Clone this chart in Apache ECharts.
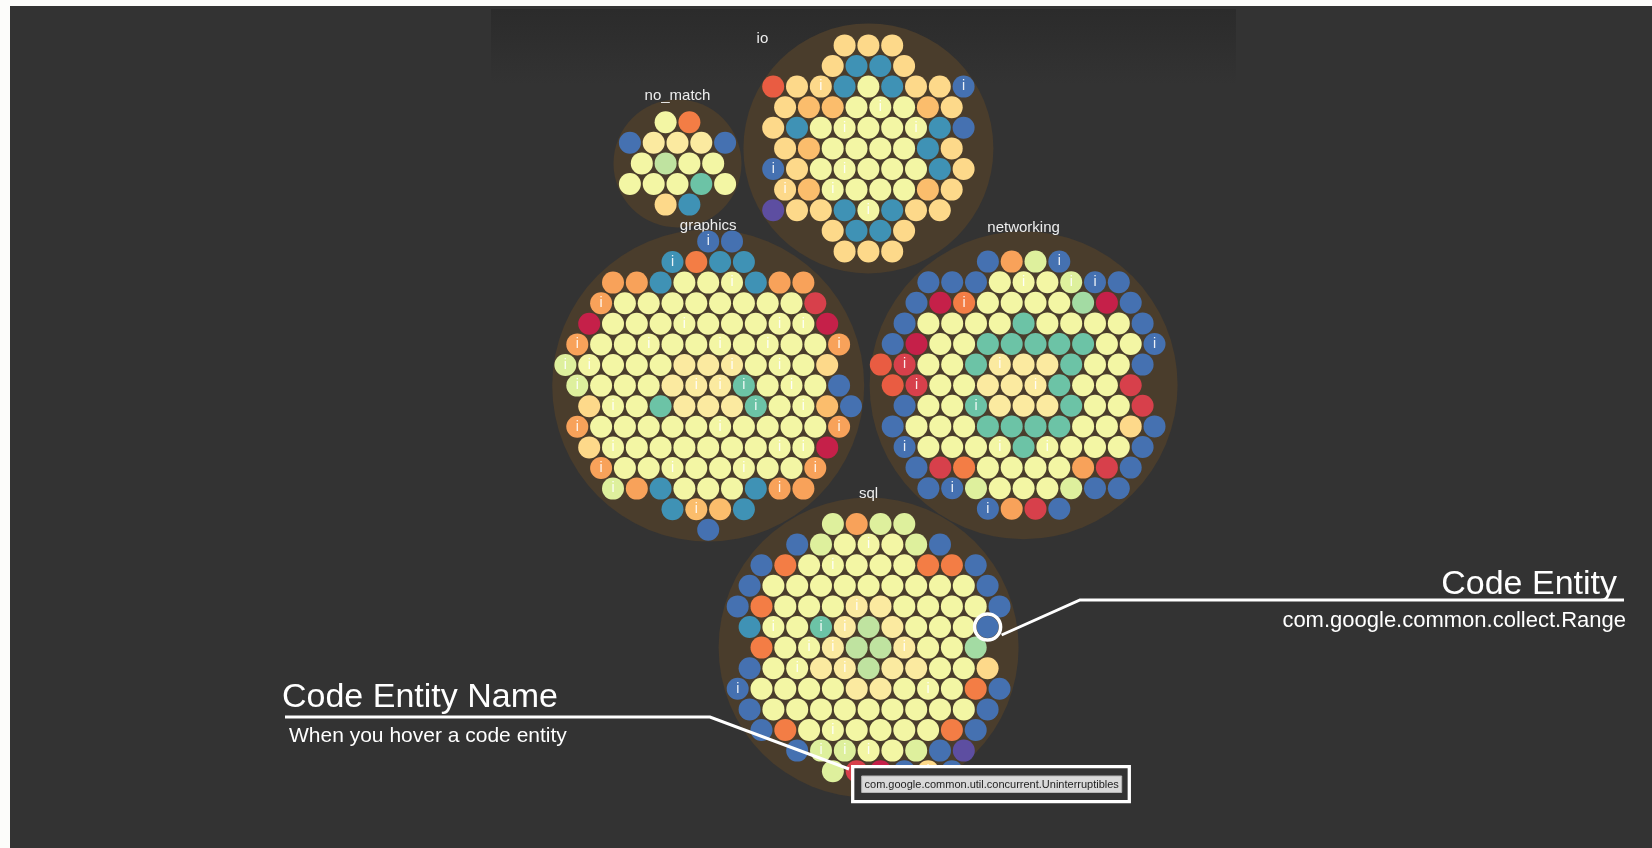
<!DOCTYPE html>
<html>
<head>
<meta charset="utf-8">
<title>Code entities by package</title>
<script src="https://cdn.jsdelivr.net/npm/echarts@6/dist/echarts.min.js"></script>
<style>
    html, body { margin: 0; padding: 0; background: #333; }
    #chart { width: 1652px; height: 848px; }
</style>
</head>
<body>
<div id="chart"></div>
<script>
// packages, drawn as big bubbles
const packages = ["io", "no_match", "graphics", "networking", "sql"];

// entities of each package, one string per row, one letter per entity (its colour class),
// "*" after a letter = entity carries an info marker.
// row = [first slot, in half steps from the package centre, entities]
const ioRows = [
    [-2, "yyy"],
    [-3, "yccy"],
    [-8, "oyy*cecyyB*"],
    [-7, "ybbee*eby"],
    [-8, "ycee*eee*cB"],
    [-7, "ybeeeecy"],
    [-8, "B*yee*eeecy"],
    [-7, "y*be*eeeby"],
    [-8, "Pyyce*cyy"],
    [-3, "yccy"],
    [-2, "yyy"]
];

const noMatchRows = [
    [-1, "eO"],
    [-4, "BpppB"],
    [-3, "eGee"],
    [-4, "eeete"],
    [-1, "yc"]
];

const graphicsRows = [
    [0, "B*B"],
    [-3, "c*Occ"],
    [-8, "aaceee*caa"],
    [-9, "a*eeeeeeeer"],
    [-10, "Reeee*eeee*e*R"],
    [-11, "a*eee*eee*ee*eea*"],
    [-12, "g*e*eeeppp*ee*ey"],
    [-11, "g*eeepp*p*t*ee*eB"],
    [-10, "ye*etpppt*ee*bB"],
    [-11, "a*eeeeee*eeeea*"],
    [-10, "ye*eeeeeee*e*R"],
    [-9, "a*eee*eee*eea*"],
    [-8, "g*aceeeca*a"],
    [-3, "cb*bc"],
    [0, "B"]
];

const networkingRows = [
    [-3, "BagB*"],
    [-8, "BBBee*eg*B*B"],
    [-9, "BRO*eeeemRB"],
    [-10, "BeeeeteeeeB"],
    [-11, "BReettttteeB*"],
    [-12, "or*eetp*ppteeB"],
    [-11, "or*eeppp*teer"],
    [-10, "Beet*pppteer"],
    [-11, "BeeetttteeyB"],
    [-10, "B*eeee*te*eeeB"],
    [-9, "BrOeeeearB"],
    [-8, "BB*geeegBB"],
    [-3, "B*arB"]
];

const sqlRows = [
    [-3, "gagg"],
    [-6, "Bgee*egB"],
    [-9, "BOee*eeeOOB"],
    [-10, "BeeeeeeeeeB"],
    [-11, "BOeeep*peeeeB"],
    [-10, "ce*et*p*GpeeeB"],
    [-9, "Oee*p*GGp*eem"],
    [-10, "Bee*pp*Gppeey"],
    [-11, "B*eeeeppee*eOB"],
    [-10, "BeeeeeeeeeB"],
    [-9, "BOee*eeeeOB"],
    [-6, "Bg*g*e*egBP"],
    [-3, "grRBy*B"]
];

const packageRows = [ioRows, noMatchRows, graphicsRows, networkingRows, sqlRows];

// annotated entities
const selectedEntity = { pkg: "sql", row: 5, index: 10, name: "com.google.common.collect.Range" };
const hoveredEntity = "com.google.common.util.concurrent.Uninterruptibles";

// ---- layout / style ----
const packageLayout = {
    io:         { cx: 868.4, cy: 148.4, r: 125 },
    no_match:   { cx: 677.5, cy: 163.4, r: 64 },
    graphics:   { cx: 708.2, cy: 385.6, r: 156 },
    networking: { cx: 1023.6, cy: 385.2, r: 154 },
    sql:        { cx: 868.6, cy: 647.6, r: 150 }
};
const STEP = 23.8;      // distance between neighbouring entities
const ROW = 20.6;       // distance between rows
const DOT = 22;

const colors = {
    R: "#c52049", r: "#d7404b", o: "#e95c42", O: "#f37d45",
    a: "#f8a25a", b: "#fbbd6c", y: "#fdd98a", p: "#fbeaa0",
    e: "#f3f6a4", g: "#def09d", G: "#bfe3a0", m: "#a3dba3",
    t: "#6cc3a6", c: "#3f92b5", B: "#4571b1", P: "#5d4ea1"
};
const FONT = '"Liberation Sans", Arial, Helvetica, sans-serif';

function entityPositions(rows, box) {
    const mid = (rows.length - 1) / 2;
    const out = [];
    rows.forEach(function (row, k) {
        const codes = row[1];
        let slot = row[0];
        let index = 0;
        for (let i = 0; i < codes.length; i++) {
            const code = codes[i];
            if (code === "*") continue;
            out.push({
                row: k,
                index: index++,
                code: code,
                info: codes[i + 1] === "*",
                x: box.cx + slot * STEP / 2,
                y: box.cy + (k - mid) * ROW
            });
            slot += 2;
        }
    });
    return out;
}

const entityData = [];
let selectedPos = null;
packages.forEach(function (pkg, p) {
    entityPositions(packageRows[p], packageLayout[pkg]).forEach(function (ent) {
        entityData.push({
            value: [ent.x, ent.y],
            itemStyle: { color: colors[ent.code] },
            label: { show: ent.info }
        });
        if (pkg === selectedEntity.pkg && ent.row === selectedEntity.row && ent.index === selectedEntity.index) {
            selectedPos = [ent.x, ent.y];
        }
    });
});

const labelPos = { io: [19, 15] };
const packageData = packages.map(function (pkg) {
    const b = packageLayout[pkg];
    const item = { name: pkg, value: [b.cx, b.cy], symbolSize: b.r * 2 };
    if (labelPos[pkg]) {
        item.label = { position: labelPos[pkg], align: "center", verticalAlign: "middle" };
    }
    return item;
});

const chart = echarts.init(document.getElementById("chart"));

const option = {
    backgroundColor: "#333333",
    animation: false,
    grid: { left: 0, right: 0, top: 0, bottom: 0 },
    xAxis: { type: "value", min: 0, max: 1652, show: false },
    yAxis: { type: "value", min: 0, max: 848, inverse: true, show: false },
    series: [
        {
            name: "packages",
            type: "scatter",
            z: 2,
            data: packageData,
            itemStyle: { color: "#4a3d2c", opacity: 1 },
            emphasis: { disabled: true },
            label: {
                show: true,
                position: "top",
                distance: -4,
                formatter: "{b}",
                color: "#eeeeee",
                fontSize: 15,
                fontFamily: FONT
            }
        },
        {
            name: "entities",
            type: "scatter",
            z: 3,
            symbolSize: DOT,
            data: entityData,
            itemStyle: { opacity: 1 },
            emphasis: { disabled: true },
            label: {
                position: "inside",
                formatter: "i",
                color: "rgba(255,255,255,0.9)",
                fontSize: 14,
                fontFamily: FONT
            }
        }
    ],
    graphic: [
        // page edges and header band
        { type: "rect", z: 0, shape: { x: 0, y: 0, width: 1652, height: 6 }, style: { fill: "#fcfcfa" } },
        { type: "rect", z: 0, shape: { x: 0, y: 0, width: 10, height: 848 }, style: { fill: "#fcfcfa" } },
        {
            type: "rect", z: 0,
            shape: { x: 491, y: 9, width: 745, height: 75 },
            style: {
                fill: new echarts.graphic.LinearGradient(0, 0, 0, 1, [
                    { offset: 0, color: "#2b2b2b" },
                    { offset: 1, color: "#333333" }
                ])
            }
        },
        // selected entity
        {
            type: "circle", z: 100,
            shape: { cx: selectedPos[0], cy: selectedPos[1], r: 13 },
            style: { fill: "none", stroke: "#ffffff", lineWidth: 3.5 }
        },
        {
            type: "polyline", z: 90,
            shape: { points: [[selectedPos[0] + 14, selectedPos[1] + 8], [1080, 600], [1624, 600]] },
            style: { stroke: "#ffffff", lineWidth: 3, fill: "none" }
        },
        {
            type: "text", z: 100,
            style: { text: "Code Entity", x: 1617, y: 585, fill: "#ffffff", fontSize: 34, fontFamily: FONT,
                     align: "right", verticalAlign: "middle", textAlign: "right", textVerticalAlign: "middle" }
        },
        {
            type: "text", z: 100,
            style: { text: selectedEntity.name, x: 1626, y: 621, fill: "#ffffff", fontSize: 22, fontFamily: FONT,
                     align: "right", verticalAlign: "middle", textAlign: "right", textVerticalAlign: "middle" }
        },
        // hovered entity
        {
            type: "polyline", z: 90,
            shape: { points: [[285, 717], [710, 717], [849, 769]] },
            style: { stroke: "#ffffff", lineWidth: 3, fill: "none" }
        },
        {
            type: "text", z: 100,
            style: { text: "Code Entity Name", x: 282, y: 698, fill: "#ffffff", fontSize: 34, fontFamily: FONT,
                     align: "left", verticalAlign: "middle", textAlign: "left", textVerticalAlign: "middle" }
        },
        {
            type: "text", z: 100,
            style: { text: "When you hover a code entity", x: 289, y: 736, fill: "#ffffff", fontSize: 21, fontFamily: FONT,
                     align: "left", verticalAlign: "middle", textAlign: "left", textVerticalAlign: "middle" }
        },
        {
            type: "rect", z: 100,
            shape: { x: 852.7, y: 766.7, width: 276.6, height: 35 },
            style: { fill: "#333333", stroke: "#ffffff", lineWidth: 3.3 }
        },
        {
            type: "rect", z: 101,
            shape: { x: 861.7, y: 776, width: 260, height: 16.5 },
            style: { fill: "#d9d9d9", stroke: "#b5b5b5", lineWidth: 1 }
        },
        {
            type: "text", z: 102,
            style: { text: hoveredEntity, x: 991.7, y: 784.5, fill: "#222222", fontSize: 11, fontFamily: FONT,
                     align: "center", verticalAlign: "middle", textAlign: "center", textVerticalAlign: "middle" }
        }
    ]
};

chart.setOption(option);
</script>
</body>
</html>
